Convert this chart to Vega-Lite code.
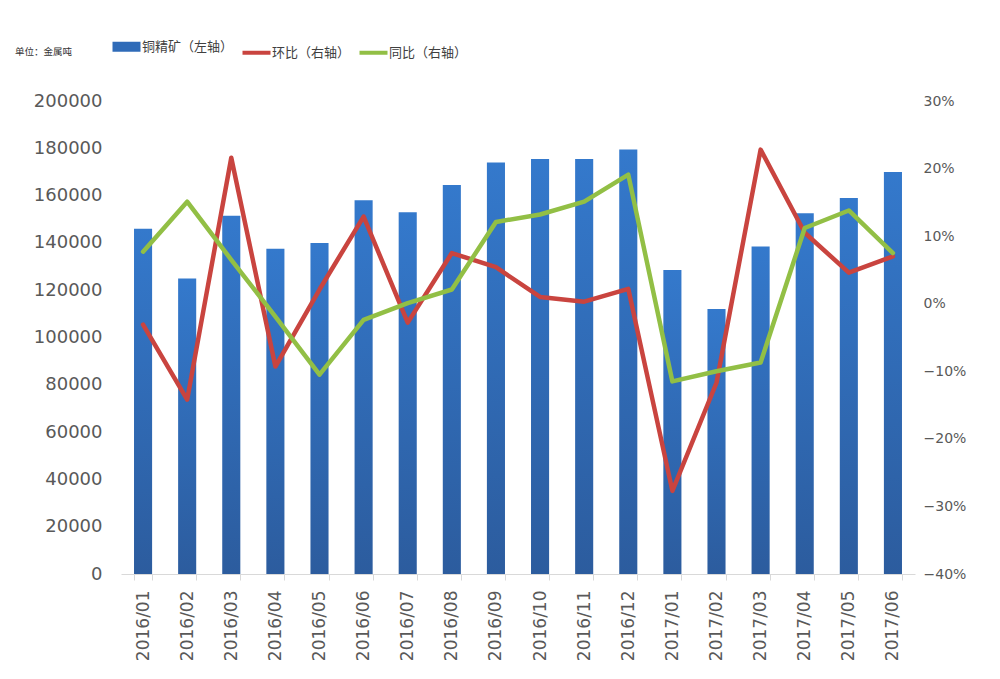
{
  "$schema": "https://vega.github.io/schema/vega-lite/v6.json",
  "width": 794,
  "height": 473,
  "autosize": {"type": "none"},
  "padding": {"left": 121, "top": 101, "right": 85, "bottom": 105},
  "background": "#ffffff",
  "config": {
    "view": {"stroke": null},
    "font": "DejaVu Sans"
  },
  "title": {
    "text": "单位：金属吨",
    "anchor": "start",
    "frame": "group",
    "orient": "top",
    "dx": -106,
    "dy": 16,
    "offset": 0,
    "font": "Noto Sans CJK SC",
    "fontSize": 9.5,
    "fontWeight": "normal",
    "color": "#333333"
  },
  "datasets": {
    "copper": [
      {"month": "2016/01", "output": 146000},
      {"month": "2016/02", "output": 125000},
      {"month": "2016/03", "output": 151500},
      {"month": "2016/04", "output": 137500},
      {"month": "2016/05", "output": 140000},
      {"month": "2016/06", "output": 158000},
      {"month": "2016/07", "output": 153000},
      {"month": "2016/08", "output": 164500},
      {"month": "2016/09", "output": 174000},
      {"month": "2016/10", "output": 175500},
      {"month": "2016/11", "output": 175500},
      {"month": "2016/12", "output": 179500},
      {"month": "2017/01", "output": 128500},
      {"month": "2017/02", "output": 112000},
      {"month": "2017/03", "output": 138500},
      {"month": "2017/04", "output": 152500},
      {"month": "2017/05", "output": 159000},
      {"month": "2017/06", "output": 170000}
    ],
    "ratio": [
      {"month": "2016/01", "series": "环比（右轴）", "pct": -0.031},
      {"month": "2016/02", "series": "环比（右轴）", "pct": -0.142},
      {"month": "2016/03", "series": "环比（右轴）", "pct": 0.216},
      {"month": "2016/04", "series": "环比（右轴）", "pct": -0.093},
      {"month": "2016/05", "series": "环比（右轴）", "pct": 0.021},
      {"month": "2016/06", "series": "环比（右轴）", "pct": 0.129},
      {"month": "2016/07", "series": "环比（右轴）", "pct": -0.028},
      {"month": "2016/08", "series": "环比（右轴）", "pct": 0.075},
      {"month": "2016/09", "series": "环比（右轴）", "pct": 0.054},
      {"month": "2016/10", "series": "环比（右轴）", "pct": 0.010},
      {"month": "2016/11", "series": "环比（右轴）", "pct": 0.003},
      {"month": "2016/12", "series": "环比（右轴）", "pct": 0.022},
      {"month": "2017/01", "series": "环比（右轴）", "pct": -0.277},
      {"month": "2017/02", "series": "环比（右轴）", "pct": -0.117},
      {"month": "2017/03", "series": "环比（右轴）", "pct": 0.228},
      {"month": "2017/04", "series": "环比（右轴）", "pct": 0.105},
      {"month": "2017/05", "series": "环比（右轴）", "pct": 0.046},
      {"month": "2017/06", "series": "环比（右轴）", "pct": 0.070},
      {"month": "2016/01", "series": "同比（右轴）", "pct": 0.077},
      {"month": "2016/02", "series": "同比（右轴）", "pct": 0.151},
      {"month": "2016/03", "series": "同比（右轴）", "pct": 0.065},
      {"month": "2016/04", "series": "同比（右轴）", "pct": -0.019},
      {"month": "2016/05", "series": "同比（右轴）", "pct": -0.105},
      {"month": "2016/06", "series": "同比（右轴）", "pct": -0.024},
      {"month": "2016/07", "series": "同比（右轴）", "pct": 0.001},
      {"month": "2016/08", "series": "同比（右轴）", "pct": 0.021},
      {"month": "2016/09", "series": "同比（右轴）", "pct": 0.121},
      {"month": "2016/10", "series": "同比（右轴）", "pct": 0.132},
      {"month": "2016/11", "series": "同比（右轴）", "pct": 0.151},
      {"month": "2016/12", "series": "同比（右轴）", "pct": 0.191},
      {"month": "2017/01", "series": "同比（右轴）", "pct": -0.115},
      {"month": "2017/02", "series": "同比（右轴）", "pct": -0.100},
      {"month": "2017/03", "series": "同比（右轴）", "pct": -0.087},
      {"month": "2017/04", "series": "同比（右轴）", "pct": 0.112},
      {"month": "2017/05", "series": "同比（右轴）", "pct": 0.138},
      {"month": "2017/06", "series": "同比（右轴）", "pct": 0.075}
    ]
  },
  "encoding": {
    "x": {
      "field": "month",
      "type": "ordinal",
      "scale": {"paddingInner": 0.59, "paddingOuter": 0.295},
      "axis": {
        "title": null,
        "labelAngle": -90,
        "labelFont": "DejaVu Sans",
        "labelFontSize": 17,
        "labelColor": "#595959",
        "labelPadding": 10,
        "domainColor": "#d9d9d9",
        "tickColor": "#d9d9d9",
        "tickSize": 6,
        "tickBand": "extent",
        "grid": false
      }
    }
  },
  "layer": [
    {
      "data": {"name": "copper"},
      "mark": {
        "type": "bar",
        "color": {
          "gradient": "linear",
          "x1": 0, "y1": 0, "x2": 0, "y2": 1,
          "stops": [
            {"offset": 0, "color": "#3479CC"},
            {"offset": 1, "color": "#2C5C9E"}
          ]
        }
      },
      "encoding": {
        "y": {
          "field": "output",
          "type": "quantitative",
          "scale": {"domain": [0, 200000], "nice": false},
          "axis": {
            "orient": "left",
            "title": null,
            "values": [0, 20000, 40000, 60000, 80000, 100000, 120000, 140000, 160000, 180000, 200000],
            "format": "d",
            "labelFont": "DejaVu Sans",
            "labelFontSize": 18,
            "labelColor": "#595959",
            "labelPadding": 19,
            "domain": false,
            "ticks": false,
            "grid": false
          }
        }
      }
    },
    {
      "data": {"name": "ratio"},
      "mark": {"type": "line", "strokeWidth": 4.5, "strokeCap": "round", "strokeJoin": "round"},
      "encoding": {
        "y": {
          "field": "pct",
          "type": "quantitative",
          "scale": {"domain": [-0.4, 0.3], "nice": false},
          "axis": {
            "orient": "right",
            "title": null,
            "values": [-0.4, -0.3, -0.2, -0.1, 0, 0.1, 0.2, 0.3],
            "format": ".0%",
            "labelFont": "DejaVu Sans",
            "labelFontSize": 14,
            "labelColor": "#595959",
            "labelPadding": 8,
            "domain": false,
            "ticks": false,
            "grid": false
          }
        },
        "color": {
          "field": "series",
          "type": "nominal",
          "sort": ["铜精矿（左轴）", "环比（右轴）", "同比（右轴）"],
          "scale": {
            "domain": ["铜精矿（左轴）", "环比（右轴）", "同比（右轴）"],
            "range": ["#2F6BB8", "#C9443F", "#92BF45"]
          },
          "legend": {
            "title": null,
            "orient": "none",
            "legendX": -1,
            "legendY": -61,
            "direction": "horizontal",
            "symbolType": "stroke",
            "symbolSize": 784,
            "symbolStrokeWidth": 4,
            "labelFont": "Noto Sans CJK SC",
            "labelFontSize": 13,
            "labelColor": "#404040",
            "labelOffset": 9,
            "columnPadding": 0,
            "encode": {
              "symbols": {
                "update": {
                  "strokeWidth": {"signal": "datum.value === '铜精矿（左轴）' ? 10 : 4"}
                }
              }
            }
          }
        }
      }
    }
  ],
  "resolve": {"scale": {"y": "independent"}}
}
